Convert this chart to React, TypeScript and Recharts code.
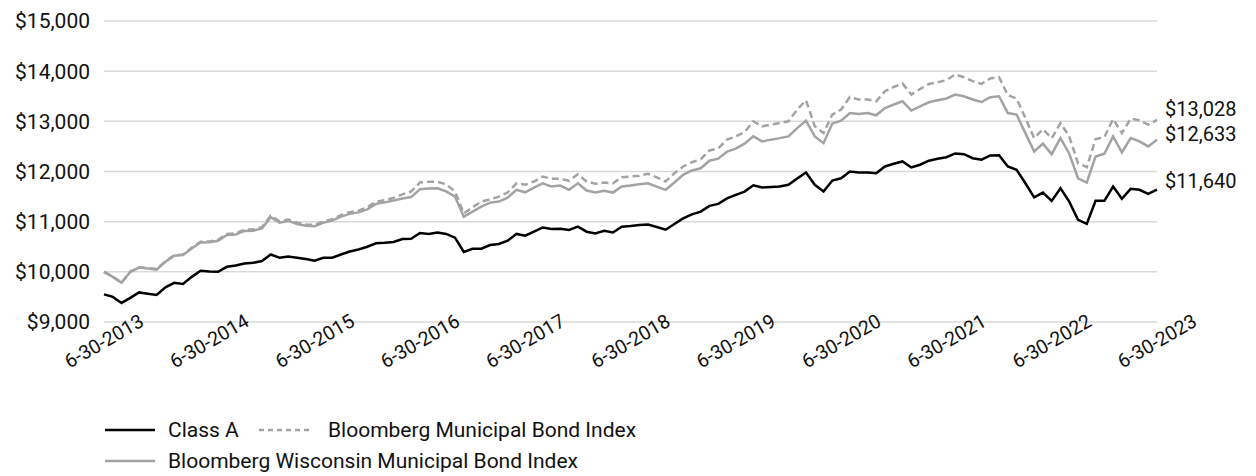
import React from "react";
import { LineChart, Line, XAxis, YAxis, CartesianGrid, LabelList } from "recharts";

// Month-end categories from 6-30-2013 to 6-30-2023
const monthEnds = [31, 28, 31, 30, 31, 30, 31, 31, 30, 31, 30, 31];
const categories: string[] = [];
for (let k = 0; k <= 120; k++) {
  const m = (5 + k) % 12;
  const y = 2013 + Math.floor((5 + k) / 12);
  const leap = y % 4 === 0 && m === 1;
  categories.push(`${m + 1}-${leap ? 29 : monthEnds[m]}-${y}`);
}

const tickLabels = [
  "6-30-2013", "6-30-2014", "6-30-2015", "6-30-2016", "6-30-2017", "6-30-2018",
  "6-30-2019", "6-30-2020", "6-30-2021", "6-30-2022", "6-30-2023",
];

const yTicks = [9000, 10000, 11000, 12000, 13000, 14000, 15000];

const classA = [
  9550, 9500, 9380, 9480, 9590, 9565, 9540, 9690, 9780, 9760,
  9900, 10020, 10005, 10000, 10100, 10125, 10165, 10180, 10215, 10345,
  10280, 10305, 10280, 10255, 10220, 10280, 10280, 10345, 10405, 10445,
  10500, 10570, 10580, 10595, 10655, 10660, 10775, 10755, 10785, 10755,
  10680, 10395, 10460, 10460, 10535, 10555, 10620, 10755, 10720, 10800,
  10885, 10855, 10860, 10835, 10900, 10800, 10765, 10820, 10785, 10900,
  10915, 10935, 10945, 10895, 10840, 10955, 11065, 11145, 11200, 11315,
  11355, 11465, 11535, 11600, 11725, 11680, 11690, 11700, 11735, 11860,
  11980, 11735, 11600, 11820, 11865, 12000, 11980, 11980, 11965, 12100,
  12155, 12200, 12080, 12135, 12215, 12255, 12285, 12360, 12345, 12265,
  12235, 12320, 12325, 12100, 12035, 11765, 11485, 11580, 11415, 11665,
  11400, 11035, 10955, 11415, 11415, 11700, 11455, 11655, 11635, 11555,
  11640,
];

const wisconsin = [
  10000, 9900, 9780, 10000, 10085, 10065, 10045, 10200, 10320, 10335,
  10465, 10585, 10590, 10620, 10735, 10745, 10815, 10820, 10865, 11090,
  10980, 11015, 10955, 10920, 10910, 10980, 11020, 11100, 11155, 11185,
  11245, 11355, 11385, 11420, 11460, 11490, 11645, 11660, 11665, 11605,
  11500, 11100, 11200, 11300, 11380, 11400, 11480, 11635, 11585, 11680,
  11765, 11700, 11720, 11635, 11765, 11620, 11580, 11615, 11580, 11700,
  11720, 11745, 11765, 11700, 11635, 11780, 11935, 12020, 12065, 12215,
  12255, 12395, 12455, 12555, 12700, 12600, 12635, 12665, 12700, 12865,
  13015, 12700, 12565, 12955, 13015, 13165, 13145, 13165, 13120, 13265,
  13335, 13400, 13215, 13300, 13380, 13420, 13455, 13535, 13500, 13435,
  13385, 13480, 13500, 13165, 13135, 12765, 12400, 12555, 12345, 12665,
  12355, 11865, 11780, 12300, 12355, 12700, 12380, 12665, 12600, 12500,
  12633,
];

const municipal = [
  10000, 9905, 9785, 10005, 10090, 10075, 10055, 10210, 10330, 10345,
  10480, 10600, 10605, 10640, 10755, 10765, 10840, 10845, 10890, 11120,
  11005, 11040, 10980, 10945, 10935, 11005, 11050, 11130, 11190, 11220,
  11285, 11400, 11430, 11470, 11545, 11600, 11780, 11795, 11795, 11745,
  11600, 11165, 11285, 11400, 11445, 11500, 11580, 11765, 11735, 11800,
  11900, 11855, 11855, 11815, 11945, 11800, 11755, 11780, 11765, 11885,
  11900, 11915, 11955, 11885, 11800, 11965, 12100, 12185, 12245, 12420,
  12460, 12635, 12700, 12785, 13000, 12900, 12935, 12965, 13000, 13235,
  13420, 12900, 12765, 13135, 13235, 13485, 13435, 13435, 13400, 13600,
  13685, 13755, 13535, 13645, 13745, 13780, 13820, 13935, 13880, 13800,
  13745, 13855, 13880, 13520, 13455, 13065, 12665, 12845, 12665, 12965,
  12700, 12165, 12085, 12645, 12685, 13045, 12765, 13055, 13020, 12935,
  13028,
];

const data = categories.map((date, i) => ({
  date,
  classA: classA[i],
  wisconsin: wisconsin[i],
  municipal: municipal[i],
}));

const FONT = "Roboto, 'Liberation Sans', sans-serif";
const GRAY = "#a3a3a3";
const LAST = categories.length - 1;

const fmt = (v: number) => `$${v.toLocaleString("en-US")}`;

const makeEndLabel = (shift: number) => (props: any) => {
  const { x, y, index, value } = props;
  if (index !== LAST) return null;
  return (
    <text x={x + 8} y={y + shift} dy="0.35em" fontSize={20} fontFamily={FONT} fill="#111">
      {fmt(value)}
    </text>
  );
};

const MuniLabel = makeEndLabel(-11);
const WiscLabel = makeEndLabel(-6);
const ClassLabel = makeEndLabel(-9);

const XTick = (props: any) => {
  const { x, y, payload } = props;
  return (
    <g transform={`translate(${x},${y + 11}) rotate(-30)`}>
      <text
        x={0}
        y={0}
        dy="0.35em"
        textAnchor="middle"
        fontSize={19.5}
        fontFamily={FONT}
        fill="#111"
      >
        {payload.value}
      </text>
    </g>
  );
};

const legendItems = [
  { name: "Class A", color: "#000", dash: undefined as string | undefined, left: 97, top: 410, gap: 13 },
  { name: "Bloomberg Municipal Bond Index", color: GRAY, dash: "5 4", left: 251, top: 410, gap: 19 },
  { name: "Bloomberg Wisconsin Municipal Bond Index", color: GRAY, dash: undefined, left: 97, top: 441, gap: 13 },
];

export default function App() {
  return (
    <div style={{ position: "relative", width: 1240, height: 468, fontFamily: FONT }}>
      <LineChart
        width={1240}
        height={390}
        data={data}
        margin={{ top: 13, right: 91, left: 0, bottom: 0 }}
      >
        <CartesianGrid vertical={false} stroke="#d9d9d9" strokeWidth={1.5} />
        <XAxis
          dataKey="date"
          ticks={tickLabels}
          interval={0}
          height={76}
          axisLine={false}
          tickLine={false}
          tick={<XTick />}
        />
        <YAxis
          width={96}
          domain={[9000, 15000]}
          ticks={yTicks}
          tickFormatter={fmt}
          axisLine={false}
          tickLine={false}
          tickMargin={8}
          tick={{ fontSize: 21, fontFamily: FONT, fill: "#111" }}
        />
        <Line
          dataKey="municipal"
          stroke={GRAY}
          strokeWidth={2.5}
          strokeDasharray="7 4"
          dot={false}
          activeDot={false}
          isAnimationActive={false}
        >
          <LabelList dataKey="municipal" content={<MuniLabel />} />
        </Line>
        <Line
          dataKey="wisconsin"
          stroke={GRAY}
          strokeWidth={2.5}
          dot={false}
          activeDot={false}
          isAnimationActive={false}
        >
          <LabelList dataKey="wisconsin" content={<WiscLabel />} />
        </Line>
        <Line
          dataKey="classA"
          stroke="#000"
          strokeWidth={2.5}
          dot={false}
          activeDot={false}
          isAnimationActive={false}
        >
          <LabelList dataKey="classA" content={<ClassLabel />} />
        </Line>
      </LineChart>
      {legendItems.map((it) => (
        <div
          key={it.name}
          style={{
            position: "absolute",
            left: it.left,
            top: it.top,
            height: 24,
            display: "flex",
            alignItems: "center",
            whiteSpace: "nowrap",
          }}
        >
          <svg width={50} height={24} style={{ marginRight: it.gap }}>
            <line x1={0} y1={12} x2={50} y2={12} stroke={it.color} strokeWidth={2.5} strokeDasharray={it.dash} />
          </svg>
          <span style={{ fontSize: 21, color: "#111", lineHeight: "24px" }}>{it.name}</span>
        </div>
      ))}
    </div>
  );
}
